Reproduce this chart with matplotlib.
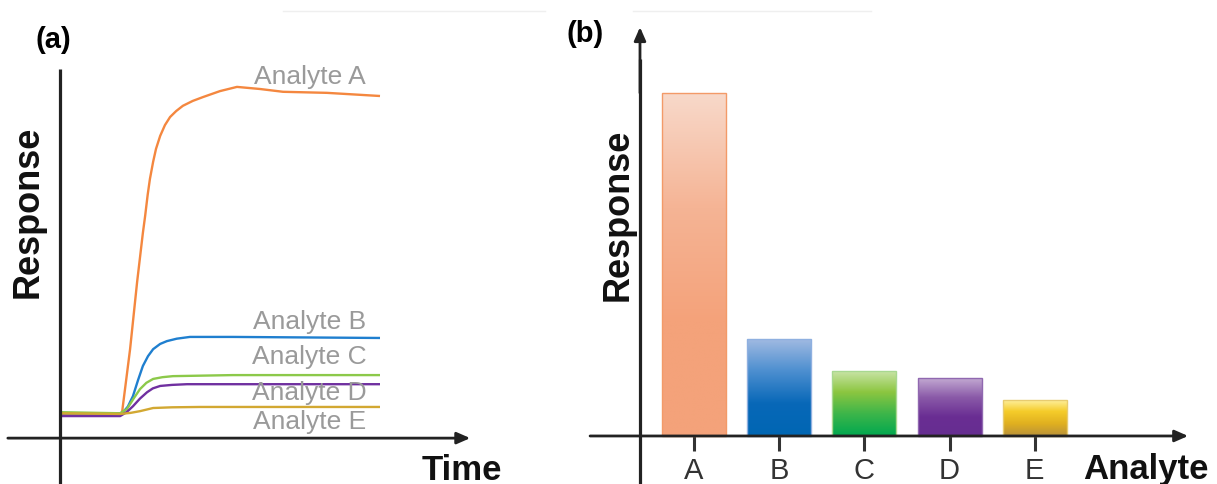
import matplotlib
matplotlib.use('Agg')
import matplotlib.pyplot as plt
from matplotlib.colors import LinearSegmentedColormap
import numpy as np

plt.rcParams['font.family'] = ['Liberation Sans', 'DejaVu Sans']

# ---- (a) sensorgram curves: time vs response ----
t_A = [0.6, 18.8, 19.4, 21.9, 24.1, 25.9, 26.6, 27.4, 28.1, 29.1, 30.0, 31.3, 32.8, 34.4, 36.3,
       38.4, 41.5, 44.7, 50.0, 55.3, 62.5, 69.7, 83.4, 100.0]
r_A = [6.9, 6.9, 7.4, 25.4, 44.6, 58.6, 63.4, 69.5, 74.0, 78.9, 82.6, 86.3, 89.4, 91.7, 93.4,
       94.9, 96.3, 97.4, 99.1, 100.3, 99.7, 98.9, 98.6, 97.7]

t_B = [0.6, 18.8, 19.7, 21.2, 22.8, 24.4, 25.9, 27.5, 29.1, 31.3, 33.4, 36.5, 40.6, 54.0, 100.0]
r_B = [7.1, 7.1, 7.4, 9.0, 12.0, 16.6, 20.6, 23.4, 25.4, 26.9, 27.7, 28.4, 28.9, 28.9, 28.6]

t_C = [0.6, 18.8, 20.9, 23.0, 25.0, 27.0, 29.1, 32.0, 35.3, 54.0, 100.0]
r_C = [7.4, 7.1, 8.3, 11.3, 14.0, 15.8, 16.9, 17.4, 17.7, 18.0, 18.0]

t_D = [0.6, 18.8, 20.8, 22.8, 25.0, 27.2, 29.0, 31.3, 35.0, 39.7, 100.0]
r_D = [6.3, 6.3, 7.4, 9.1, 11.3, 13.1, 14.2, 14.9, 15.2, 15.4, 15.4]

t_E = [0.6, 18.8, 22.0, 25.0, 29.1, 35.0, 43.8, 100.0]
r_E = [7.1, 6.9, 7.2, 7.7, 8.6, 8.8, 8.9, 8.9]

curve_names = ['Analyte A', 'Analyte B', 'Analyte C', 'Analyte D', 'Analyte E']
curve_colors = ['#f4873f', '#1f7fcf', '#8cc94a', '#7030a0', '#d2a832']
label_y = [103.4, 33.4, 23.4, 13.1, 4.9]

# ---- (b) bar chart: final response per analyte ----
analytes = ['A', 'B', 'C', 'D', 'E']
responses = [100.0, 28.3, 19.0, 16.9, 10.5]
# gradient stops (top -> bottom) for each bar
bar_grads = [
    ['#f8d9ca', '#f5b495', '#f4a27a', '#f4a27a'],
    ['#a3bbe2', '#4d8fd0', '#0868b8', '#0066b3'],
    ['#cbe5ab', '#8cc640', '#3cb54a', '#00a84f'],
    ['#c2a9d2', '#8a5aa8', '#6a2e93', '#662d91'],
    ['#fff2a6', '#f5cc2a', '#e0b020', '#b8913a'],
]
bar_edges = ['#f39a68', '#8fb0e0', '#a8d890', '#9068b0', '#e8cc70']

AX = '#222222'
W, H = 1217, 485
fig = plt.figure(figsize=(W / 100, H / 100), dpi=100)

# faint rules along the top edge
for x0, x1 in [(283, 545), (633, 871)]:
    fig.add_artist(plt.Line2D([x0 / W, x1 / W], [1 - 12 / H, 1 - 12 / H], color='#efefef', lw=1))

# ========== (a) ==========
ax1 = fig.add_axes([0, 0, 520 / W, 1])
ax1.set_xlim(-18.75, 143.75)
ax1.set_ylim(-13.1, 125.4)
ax1.axis('off')

curves = [(t_A, r_A), (t_B, r_B), (t_C, r_C), (t_D, r_D), (t_E, r_E)]
for (t, r), c in zip(curves, curve_colors):
    ax1.plot(t, r, color=c, lw=1.7, solid_capstyle='butt', solid_joinstyle='round')
for name, y in zip(curve_names, label_y):
    ax1.text(78, y, name, color='#9a9a9a', fontsize=19, ha='center', va='center')

ax1.plot([0, 0], [-13.1, 105.4], color=AX, lw=2.3, solid_capstyle='butt')
ax1.annotate('', xy=(128.2, 0), xytext=(-16.3, 0),
             arrowprops=dict(arrowstyle='-|>,head_length=0.8,head_width=0.35',
                             color=AX, lw=2.0, shrinkA=0, shrinkB=0))
ax1.text(125.6, -9.0, 'Time', fontsize=25, fontweight='bold', ha='center', va='center', color='#111111')
ax1.text(-10.0, 64.9, 'Response', fontsize=26, fontweight='bold', rotation=90,
         ha='center', va='center', color='#111111')
fig.text(53 / W, 1 - 40 / H, '(a)', fontsize=21, fontweight='bold', ha='center', va='center')

# ========== (b) ==========
ax2 = fig.add_axes([560 / W, 0, (W - 560) / W, 1])

x = np.arange(len(analytes))
bars = ax2.bar(x, responses, width=0.75, facecolor='none', edgecolor='none', zorder=2)
for b, stops, ec in zip(bars, bar_grads, bar_edges):
    cmap = LinearSegmentedColormap.from_list('g', stops)
    grad = np.linspace(0, 1, 256).reshape(-1, 1)
    x0, w, h = b.get_x(), b.get_width(), b.get_height()
    im = ax2.imshow(grad, cmap=cmap, aspect='auto', extent=[x0, x0 + w, 0, h],
                    origin='upper', zorder=2)
    im.set_clip_path(b)
    ax2.add_patch(plt.Rectangle((x0, 0), w, h, fill=False, edgecolor=ec, lw=1.0, zorder=3))

ax2.set_xlim(-1.573, 6.139)
ax2.set_ylim(-14.0, 127.4)
ax2.axis('off')

for i, lab in enumerate(analytes):
    ax2.plot([i, i], [0, -4.4], color='#333333', lw=2.2, solid_capstyle='butt')
    ax2.text(i, -9.9, lab, fontsize=21, color='#333333', ha='center', va='center')

ax2.plot([-0.634, -0.634], [-14.0, 110], color=AX, lw=2.3, solid_capstyle='butt', zorder=4)
ax2.annotate('', xy=(-0.634, 119.2), xytext=(-0.634, 100),
             arrowprops=dict(arrowstyle='-|>,head_length=0.8,head_width=0.35',
                             color=AX, lw=2.0, shrinkA=0, shrinkB=0))
ax2.annotate('', xy=(5.8, 0), xytext=(-1.22, 0),
             arrowprops=dict(arrowstyle='-|>,head_length=0.8,head_width=0.35',
                             color=AX, lw=2.0, shrinkA=0, shrinkB=0), zorder=4)
ax2.text(4.566, -9.6, 'Analyte', fontsize=25, fontweight='bold', ha='left', va='center', color='#111111')
ax2.text(-0.892, 64.7, 'Response', fontsize=26, fontweight='bold', rotation=90,
         ha='center', va='center', color='#111111')
fig.text(585 / W, 1 - 34 / H, '(b)', fontsize=21, fontweight='bold', ha='center', va='center')

fig.savefig('out.png', dpi=100)
